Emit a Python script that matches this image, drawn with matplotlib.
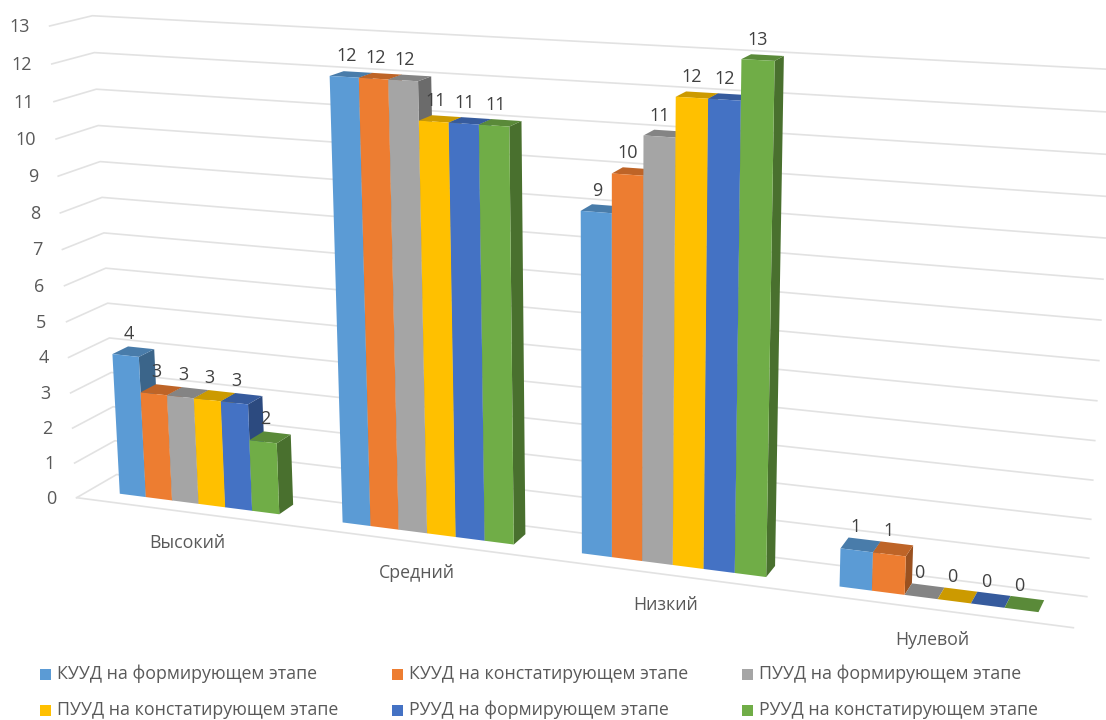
import numpy as np
import matplotlib
matplotlib.use('Agg')
import matplotlib.pyplot as plt
from matplotlib.patches import Polygon, Rectangle
from matplotlib.colors import to_rgb

plt.rcParams['font.family'] = ['Open Sans', 'DejaVu Sans']

categories = ['Высокий', 'Средний', 'Низкий', 'Нулевой']
kuud_form = [4, 12, 9, 1]
kuud_const = [3, 12, 10, 1]
puud_form = [3, 12, 11, 0]
puud_const = [3, 11, 12, 0]
ruud_form = [3, 11, 12, 0]
ruud_const = [2, 11, 13, 0]
series = [kuud_form, kuud_const, puud_form, puud_const, ruud_form, ruud_const]
names = ['КУУД на формирующем этапе', 'КУУД на констатирующем этапе', 'ПУУД на формирующем этапе',
         'ПУУД на констатирующем этапе', 'РУУД на формирующем этапе', 'РУУД на констатирующем этапе']
colors = ['#5B9BD5', '#ED7D31', '#A5A5A5', '#FFC000', '#4472C4', '#70AD47']
z_ticks = list(range(14))

text_color = '#595959'
grid_color = '#E2E2E2'

# bar layout inside one category (x: 0..4, depth: 0 front .. 1 back)
bar_w = 1 / 8.3
gap = (1 - 6 * bar_w) / 2
d0, d1 = 0.33, 0.72

# camera fit: picture pixels of known chart corners -> 3x4 projection
anchors = [
    (0, 1, 13, 93, 15), (0, 0, 13, 49, 26), (0, 1, 7, 104, 233), (0, 0, 7, 63, 249),
    (0, 1, 4, 110, 338), (0, 0, 4, 69, 358), (0, 0, 0, 78, 497),
    (4, 0, 0, 1074, 627), (4, 1, 0, 1087, 597), (4, 1, 1, 1089, 558), (4, 1, 2, 1092, 519),
    (4, 1, 10, 1106, 197), (4, 1, 13, 1113, 69),
    (gap, d0, 0, 118, 494), (1 - gap, d0, 0, 280, 514), (1 + gap, d0, 0, 342, 523),
    (2 - gap, d0, 0, 515, 544), (2 + gap, d0, 0, 581, 553), (3 - gap, d0, 0, 768, 577),
    (3 + gap, d0, 0, 838, 587), (4 - gap, d0, 0, 1038, 612),
    (gap, d0, 4, 111, 354), (1 + gap, d0, 12, 329, 77), (2 + gap, d0, 9, 580, 212),
    (3 - gap, d0, 13, 777, 60), (3 + gap, d0, 1, 839, 549),
]
rows = []
for x, d, z, u, v in anchors:
    p = np.array([x, d, z / 13, 1.0])
    rows.append(np.r_[p, np.zeros(4), -u / 1000 * p])
    rows.append(np.r_[np.zeros(4), p, -v / 1000 * p])
cam = np.linalg.svd(np.array(rows))[2][-1].reshape(3, 4)


def project(x, d, z):
    h = cam @ np.array([x, d, z / 13, 1.0])
    return h[0] / h[2] * 1000, h[1] / h[2] * 1000


def shade(color, k):
    return tuple(c * k for c in to_rgb(color))


fig = plt.figure(figsize=(11.06, 7.2), dpi=100)
ax = fig.add_axes([0, 0, 1, 1])
ax.set_xlim(0, 1106)
ax.set_ylim(720, 0)
ax.axis('off')

# walls and floor
for z in z_ticks:
    pts = [project(0, 0, z), project(0, 1, z), project(4, 1, z)]
    ax.plot(*zip(*pts), color=grid_color, lw=1.2, zorder=1)
    u, v = pts[0]
    ax.text(u - 20, v + 1, str(z), ha='right', va='center', fontsize=13, color=text_color, zorder=5)
ax.plot(*zip(project(0, 0, 0), project(4, 0, 0)), color=grid_color, lw=1.2, zorder=1)

# bars, left to right so the next bar covers the side of the previous one
order = 2
for i, cat in enumerate(categories):
    for s, vals in enumerate(series):
        h = vals[i]
        x0 = i + gap + s * bar_w
        x1 = x0 + bar_w
        c = colors[s]
        side = [project(x1, d0, 0), project(x1, d1, 0), project(x1, d1, h), project(x1, d0, h)]
        top = [project(x0, d0, h), project(x1, d0, h), project(x1, d1, h), project(x0, d1, h)]
        front = [project(x0, d0, 0), project(x1, d0, 0), project(x1, d0, h), project(x0, d0, h)]
        ax.add_patch(Polygon(side, fc=shade(c, 0.65), ec='none', zorder=order))
        ax.add_patch(Polygon(top, fc=shade(c, 0.8), ec='none', zorder=order))
        ax.add_patch(Polygon(front, fc=c, ec='none', zorder=order))
        order += 0.01
        u, v = project((x0 + x1) / 2, (d0 + d1) / 2, h)
        ax.text(u - 5, v - 18, str(h), ha='center', va='center', fontsize=13, color='#404040', zorder=6)
    u, v = project(i + 0.5, 0, 0)
    ax.text(u + 1, v + 31, cat, ha='center', va='center', fontsize=12.8, color=text_color, zorder=5)

# legend
leg_x = [40, 392, 742]
leg_y = [674, 710]
for k, name in enumerate(names):
    lx = leg_x[k % 3]
    ly = leg_y[k // 3]
    ax.add_patch(Rectangle((lx, ly - 5.5), 11, 11, fc=colors[k], ec='none', zorder=5))
    ax.text(lx + 17, ly, name, ha='left', va='center', fontsize=12.8, color=text_color, zorder=5)

fig.savefig('out.png', dpi=100)
